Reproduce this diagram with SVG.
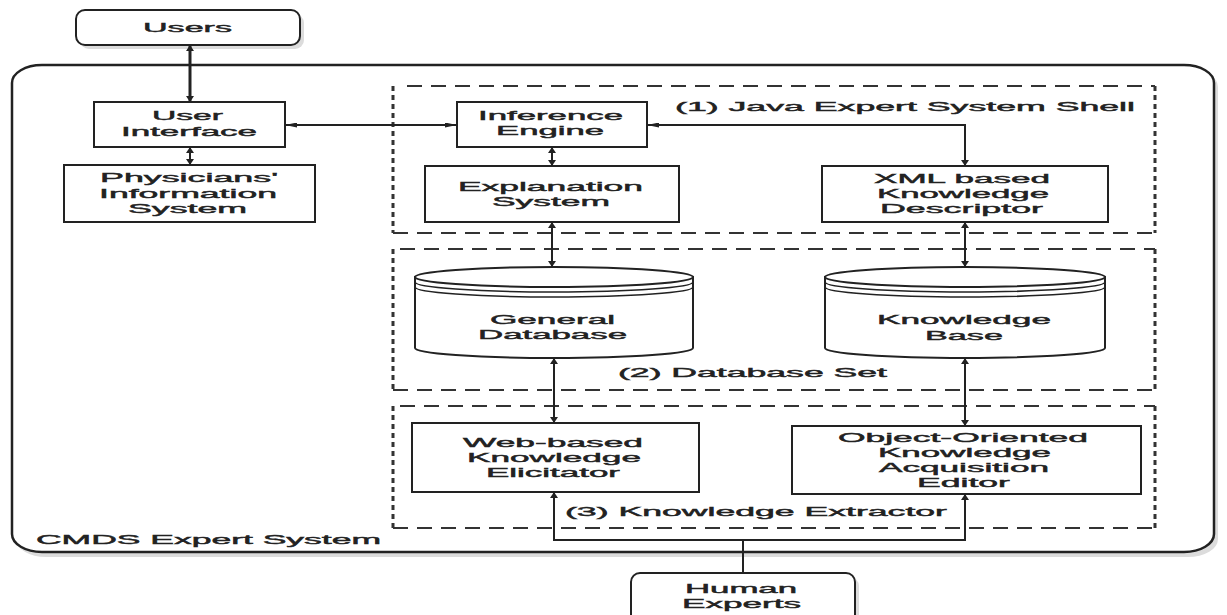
<svg xmlns="http://www.w3.org/2000/svg" width="1227" height="615" viewBox="0 0 1227 615">
<style>
.bg{fill:#fff}
.box{fill:#fff;stroke:#222;stroke-width:2}
.shadow{fill:#dcdcdc}
.outer{fill:#fff;stroke:#222;stroke-width:2.5}
.dh{fill:none;stroke:#333;stroke-width:2;stroke-dasharray:15 9}
.dv{fill:none;stroke:#333;stroke-width:3;stroke-dasharray:5 4}
.t{font-family:"Liberation Sans",Arial,sans-serif;font-size:13.5px;fill:#222;stroke:#222;stroke-width:0.45}
.c{fill:none;stroke:#222;stroke-width:2}
.thick{stroke-width:3}
.cyl{fill:#fff;stroke:#222;stroke-width:2}
.arc{fill:none;stroke:#222;stroke-width:1.6}
</style>
<defs>
<marker id="av" viewBox="0 0 6 8" refX="6" refY="4" markerWidth="6" markerHeight="8" markerUnits="userSpaceOnUse" orient="auto-start-reverse"><path d="M0,0 L6,4 L0,8 z" fill="#222"/></marker>
<marker id="ah" viewBox="0 0 12 5" refX="12" refY="2.5" markerWidth="12" markerHeight="5" markerUnits="userSpaceOnUse" orient="auto-start-reverse"><path d="M0,0 L12,2.5 L0,5 z" fill="#222"/></marker>
</defs>
<rect class="bg" x="0" y="0" width="1227" height="615"/>

<g id="cmds">
<rect class="shadow" x="16" y="69" width="1202" height="488" rx="30" ry="18"/>
<rect class="outer" x="12" y="65" width="1202" height="487" rx="30" ry="18"/>
<text class="t" x="36" y="544" textLength="345" lengthAdjust="spacingAndGlyphs">CMDS Expert System</text>
</g>

<g id="region1">
<line class="dh" x1="407" y1="86" x2="1155" y2="86"/>
<line class="dh" x1="393" y1="233" x2="1155" y2="233"/>
<line class="dv" x1="393" y1="86" x2="393" y2="233"/>
<line class="dv" x1="1155" y1="86" x2="1155" y2="233"/>
<text class="t" x="675" y="111" textLength="460" lengthAdjust="spacingAndGlyphs">(1) Java Expert System Shell</text>
</g>
<g id="region2">
<line class="dh" x1="400" y1="249" x2="1155" y2="249"/>
<line class="dh" x1="393" y1="390" x2="1155" y2="390"/>
<line class="dv" x1="393" y1="249" x2="393" y2="390"/>
<line class="dv" x1="1155" y1="249" x2="1155" y2="390"/>
<text class="t" x="618" y="377" textLength="269" lengthAdjust="spacingAndGlyphs">(2) Database Set</text>
</g>
<g id="region3">
<line class="dh" x1="400" y1="406" x2="1155" y2="406"/>
<line class="dh" x1="393" y1="528" x2="1155" y2="528"/>
<line class="dv" x1="393" y1="406" x2="393" y2="528"/>
<line class="dv" x1="1155" y1="406" x2="1155" y2="528"/>
<text class="t" x="565" y="516" textLength="382" lengthAdjust="spacingAndGlyphs">(3) Knowledge Extractor</text>
</g>

<g id="users">
<rect class="shadow" x="80" y="14" width="224" height="35" rx="9"/>
<rect class="box" x="76" y="10" width="224" height="35" rx="9"/>
<text class="t" x="143" y="32" textLength="89" lengthAdjust="spacingAndGlyphs">Users</text>
</g>

<g id="user-interface">
<rect class="box" x="94" y="102" width="191" height="45"/>
<text class="t" x="152" y="120" textLength="71" lengthAdjust="spacingAndGlyphs">User</text>
<text class="t" x="121" y="136" textLength="136" lengthAdjust="spacingAndGlyphs">Interface</text>
</g>

<g id="physicians">
<rect class="box" x="64" y="165" width="251" height="57"/>
<text class="t" x="100" y="182" textLength="178" lengthAdjust="spacingAndGlyphs">Physicians'</text>
<text class="t" x="99" y="198" textLength="178" lengthAdjust="spacingAndGlyphs">Information</text>
<text class="t" x="128" y="213" textLength="119" lengthAdjust="spacingAndGlyphs">System</text>
</g>

<g id="inference-engine">
<rect class="box" x="457" y="102" width="190" height="45"/>
<text class="t" x="478" y="120" textLength="145" lengthAdjust="spacingAndGlyphs">Inference</text>
<text class="t" x="496" y="135" textLength="108" lengthAdjust="spacingAndGlyphs">Engine</text>
</g>

<g id="explanation">
<rect class="box" x="425" y="166" width="254" height="56"/>
<text class="t" x="458" y="191" textLength="185" lengthAdjust="spacingAndGlyphs">Explanation</text>
<text class="t" x="492" y="206" textLength="118" lengthAdjust="spacingAndGlyphs">System</text>
</g>

<g id="xml-descriptor">
<rect class="box" x="822" y="166" width="286" height="56"/>
<text class="t" x="874" y="183" textLength="176" lengthAdjust="spacingAndGlyphs">XML based</text>
<text class="t" x="877" y="198" textLength="172" lengthAdjust="spacingAndGlyphs">Knowledge</text>
<text class="t" x="880" y="213" textLength="163" lengthAdjust="spacingAndGlyphs">Descriptor</text>
</g>

<g id="general-db">
<path class="cyl" d="M415,277 V348 A139,10 0 0 0 693,348 V277 Z"/>
<ellipse class="cyl" cx="554" cy="277" rx="139" ry="10"/>
<path class="arc" d="M415,282 A139,10 0 0 0 693,282"/>
<path class="arc" d="M415,287 A139,10 0 0 0 693,287"/>
<text class="t" x="490" y="324" textLength="125" lengthAdjust="spacingAndGlyphs">General</text>
<text class="t" x="478" y="339" textLength="149" lengthAdjust="spacingAndGlyphs">Database</text>
</g>

<g id="knowledge-base">
<path class="cyl" d="M825,277 V348 A140,10 0 0 0 1105,348 V277 Z"/>
<ellipse class="cyl" cx="965" cy="277" rx="140" ry="10"/>
<path class="arc" d="M825,282 A140,10 0 0 0 1105,282"/>
<path class="arc" d="M825,287 A140,10 0 0 0 1105,287"/>
<text class="t" x="877" y="324" textLength="174" lengthAdjust="spacingAndGlyphs">Knowledge</text>
<text class="t" x="925" y="340" textLength="78" lengthAdjust="spacingAndGlyphs">Base</text>
</g>

<g id="web-elicitator">
<rect class="box" x="412" y="423" width="287" height="69"/>
<text class="t" x="463" y="447" textLength="180" lengthAdjust="spacingAndGlyphs">Web-based</text>
<text class="t" x="467" y="462" textLength="174" lengthAdjust="spacingAndGlyphs">Knowledge</text>
<text class="t" x="486" y="477" textLength="134" lengthAdjust="spacingAndGlyphs">Elicitator</text>
</g>

<g id="oo-editor">
<rect class="box" x="792" y="426" width="349" height="68"/>
<text class="t" x="838" y="442" textLength="250" lengthAdjust="spacingAndGlyphs">Object-Oriented</text>
<text class="t" x="878" y="457" textLength="173" lengthAdjust="spacingAndGlyphs">Knowledge</text>
<text class="t" x="879" y="472" textLength="170" lengthAdjust="spacingAndGlyphs">Acquisition</text>
<text class="t" x="917" y="487" textLength="93" lengthAdjust="spacingAndGlyphs">Editor</text>
</g>

<g id="human-experts">
<rect class="shadow" x="635" y="577" width="224" height="60" rx="9"/>
<rect class="box" x="631" y="573" width="224" height="60" rx="9"/>
<text class="t" x="685" y="593" textLength="112" lengthAdjust="spacingAndGlyphs">Human</text>
<text class="t" x="682" y="608" textLength="119" lengthAdjust="spacingAndGlyphs">Experts</text>
</g>

<g id="connectors">
<line class="c thick" x1="190" y1="45" x2="190" y2="102" marker-start="url(#av)" marker-end="url(#av)"/>
<line class="c" x1="190" y1="147" x2="190" y2="165" marker-start="url(#av)" marker-end="url(#av)"/>
<line class="c" x1="285" y1="125" x2="457" y2="125" marker-start="url(#ah)" marker-end="url(#ah)"/>
<path class="c" d="M647,125 H965 V166" marker-start="url(#ah)" marker-end="url(#av)"/>
<line class="c" x1="552" y1="147" x2="552" y2="166" marker-start="url(#av)" marker-end="url(#av)"/>
<line class="c" x1="552" y1="222" x2="552" y2="267" marker-start="url(#av)" marker-end="url(#av)"/>
<line class="c" x1="965" y1="222" x2="965" y2="267" marker-start="url(#av)" marker-end="url(#av)"/>
<line class="c" x1="554" y1="358" x2="554" y2="423" marker-start="url(#av)" marker-end="url(#av)"/>
<line class="c" x1="965" y1="358" x2="965" y2="426" marker-start="url(#av)" marker-end="url(#av)"/>
<path class="c" d="M743,573 V540 H554 V492" marker-end="url(#av)"/>
<path class="c" d="M743,540 H965 V494" marker-end="url(#av)"/>
</g>
</svg>
